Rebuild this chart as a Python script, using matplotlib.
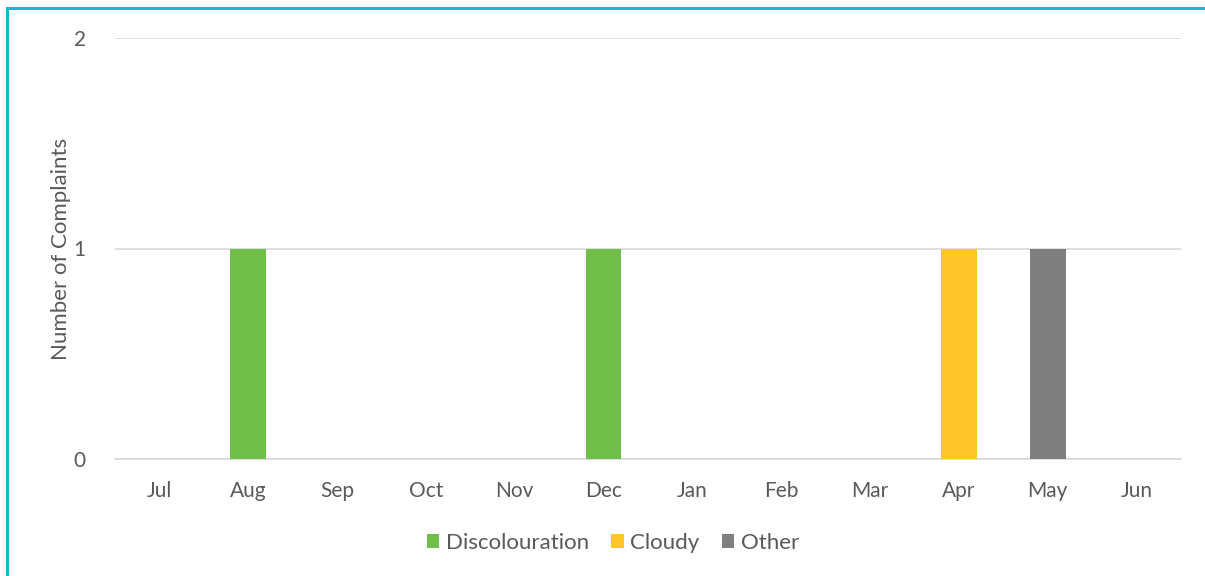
import numpy as np
import matplotlib.pyplot as plt
from matplotlib.patches import Rectangle

months = ['Jul', 'Aug', 'Sep', 'Oct', 'Nov', 'Dec', 'Jan', 'Feb', 'Mar', 'Apr', 'May', 'Jun']
discolouration = [0, 1, 0, 0, 0, 1, 0, 0, 0, 0, 0, 0]
cloudy = [0, 0, 0, 0, 0, 0, 0, 0, 0, 1, 0, 0]
other = [0, 0, 0, 0, 0, 0, 0, 0, 0, 0, 1, 0]

text_col = '#595959'
plt.rcParams['font.family'] = ['Lato', 'DejaVu Sans']

fig = plt.figure(figsize=(12.05, 5.76), dpi=100)
ax = fig.add_axes([115 / 1205, 1 - 459 / 576, (1181 - 115) / 1205, (459 - 38) / 576])

x = np.arange(len(months))
w = 0.4
ax.bar(x, discolouration, w, color='#70BF4A', label='Discolouration', zorder=3)
ax.bar(x, cloudy, w, bottom=discolouration, color='#FFC629', label='Cloudy', zorder=3)
ax.bar(x, other, w, bottom=np.add(discolouration, cloudy), color='#7F7F7F', label='Other', zorder=3)

ax.set_xlim(-0.5, len(months) - 0.5)
ax.set_ylim(0, 2)
ax.set_yticks([0, 1, 2])
ax.set_xticks(x)
ax.set_xticklabels(months)
ax.yaxis.grid(True, color='#D9D9D9', linewidth=1.2, zorder=0)
for s in ['top', 'right', 'left']:
    ax.spines[s].set_visible(False)
ax.spines['bottom'].set_color('#D9D9D9')
ax.spines['bottom'].set_linewidth(1.2)
ax.tick_params(axis='both', length=0, colors=text_col, labelsize=15)
ax.tick_params(axis='x', pad=16)
ax.tick_params(axis='y', pad=21)
ax.set_ylabel('Number of Complaints', color=text_col, fontsize=16, labelpad=2)

fig.legend(loc='center', bbox_to_anchor=(613 / 1205, 1 - 543 / 576), ncol=3,
           frameon=False, fontsize=16, labelcolor=text_col, handlelength=0.55,
           handleheight=0.55, handletextpad=0.3, columnspacing=1.0)

# outer chart border
fig.patches.append(Rectangle((6.5 / 1205, -0.05), 1.1, 1 - 8.5 / 576 + 0.05,
                             transform=fig.transFigure, fill=False,
                             edgecolor='#1AB8D0', linewidth=2.2))

fig.savefig('out.png', dpi=100)
